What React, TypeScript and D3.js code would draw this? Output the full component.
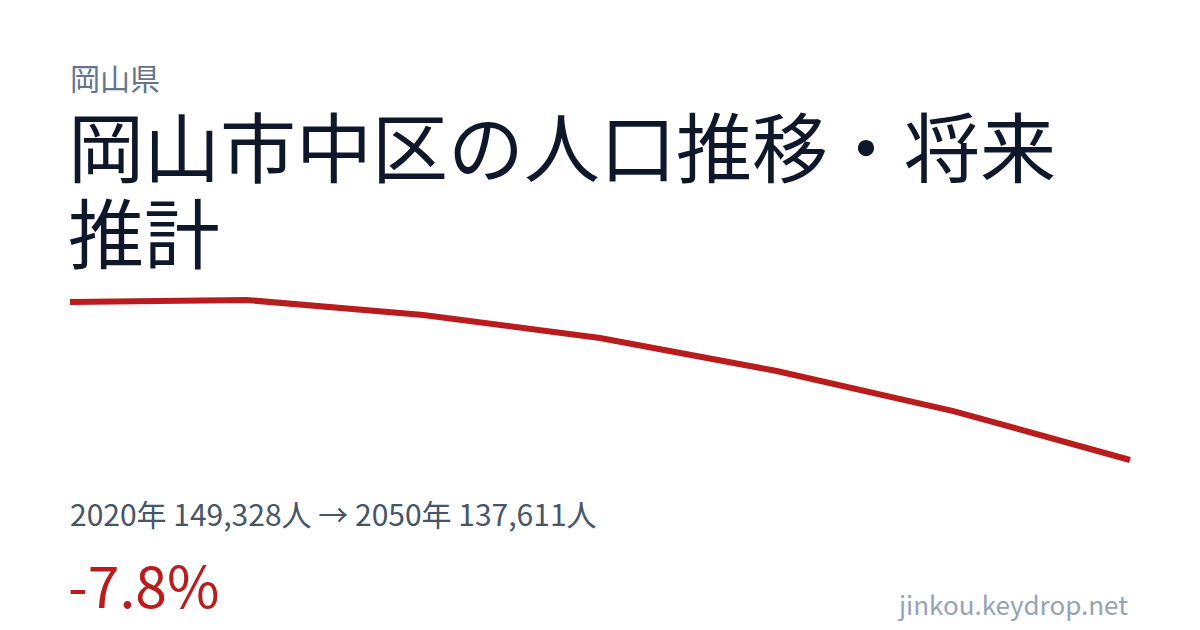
import * as d3 from "d3"

// population series
const years = [2020, 2025, 2030, 2035, 2040, 2045, 2050]
const population = [149328, 149480, 148360, 146660, 144210, 141240, 137611]

const prefecture = "岡山県"
const titleLines = ["岡山市中区の人口推移・将来", "推計"]
const summary = "2020年 149,328人 → 2050年 137,611人"
const change = "-7.8%"
const site = "jinkou.keydrop.net"

const W = 1200
const H = 630
const FONT = "'Noto Sans CJK JP', 'Noto Sans', sans-serif"

export default function App() {
  const x = d3
    .scaleLinear()
    .domain(d3.extent(years) as [number, number])
    .range([70, 1130])

  const y = d3
    .scaleLinear()
    .domain(d3.extent(population) as [number, number])
    .range([460, 300])

  const line = d3
    .line<number>()
    .x((d, i) => x(years[i]))
    .y((d) => y(d))

  return (
    <>
      <style>{`body{margin:0}`}</style>
      <svg width={W} height={H} viewBox={`0 0 ${W} ${H}`} style={{ display: "block", fontFamily: FONT }}>
        <rect width={W} height={H} fill="#ffffff" />

        <text x={70} y={90} fontSize={30} fill="#64748b">
          {prefecture}
        </text>

        {titleLines.map((t, i) => (
          <text key={i} x={68} y={177 + i * 86} fontSize={76} fill="#0f172a">
            {t}
          </text>
        ))}

        <path
          d={line(population) ?? ""}
          fill="none"
          stroke="#b91c1c"
          strokeWidth={6}
          strokeLinejoin="miter"
        />

        <text x={70} y={526} fontSize={30} fill="#475569">
          {summary}
        </text>

        <text x={68} y={608} fontSize={57} fill="#b91c1c">
          {change}
        </text>

        <text x={1128} y={615} fontSize={26} fill="#94a3b8" textAnchor="end">
          {site}
        </text>
      </svg>
    </>
  )
}
